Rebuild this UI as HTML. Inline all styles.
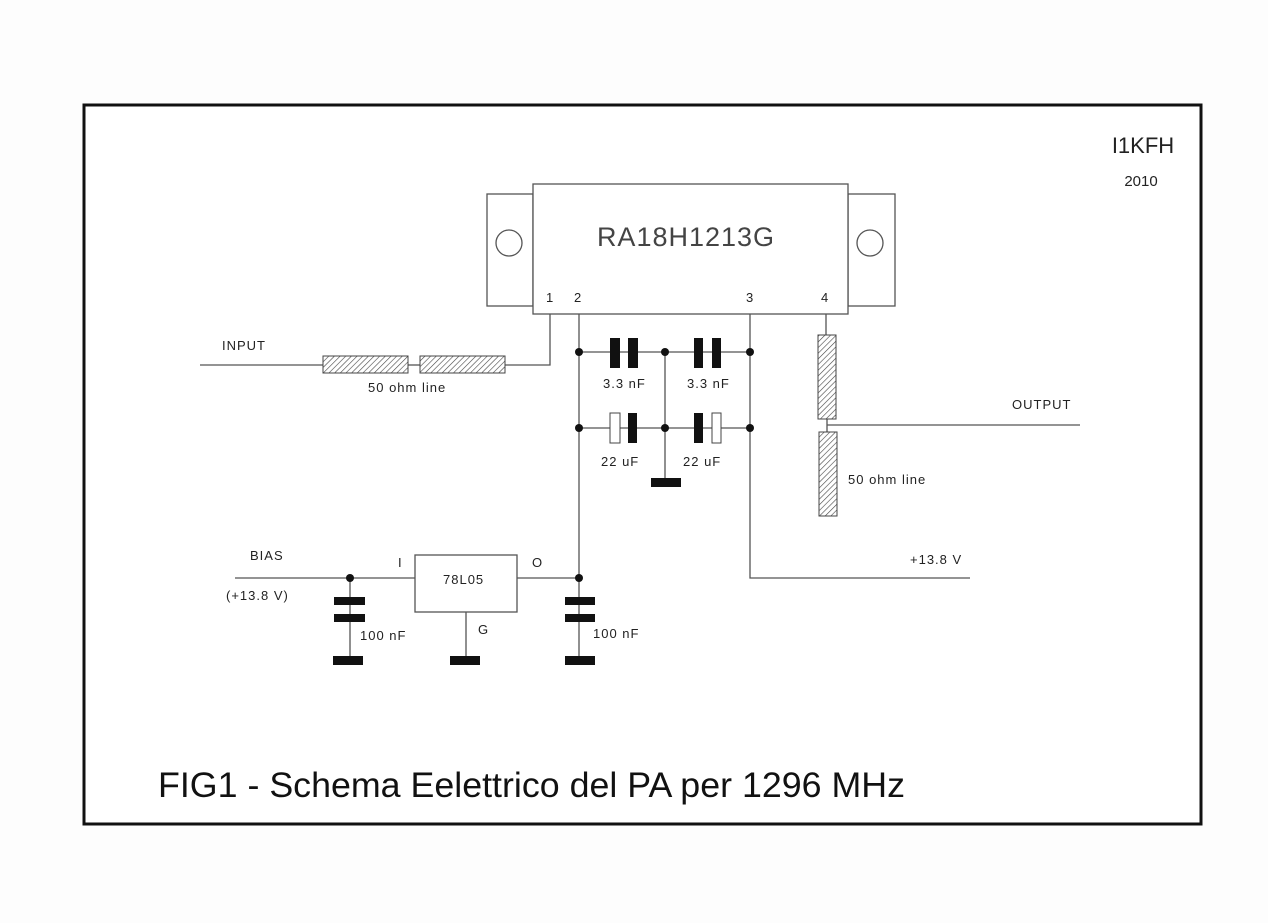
<!DOCTYPE html>
<html><head><meta charset="utf-8"><style>
html,body{margin:0;padding:0;background:#fff;}
svg{display:block}
text{font-family:"Liberation Sans",sans-serif;fill:#222}
.t{font-size:13px;fill:#333;letter-spacing:1px}
</style></head><body>
<svg width="1268" height="923" viewBox="0 0 1268 923" xmlns="http://www.w3.org/2000/svg">
<defs>
<pattern id="h" width="4" height="4" patternUnits="userSpaceOnUse" patternTransform="rotate(45)">
<rect width="4" height="4" fill="#fff"/><line x1="0" y1="0" x2="0" y2="4" stroke="#444" stroke-width="1.2"/>
</pattern>
</defs>
<rect width="1268" height="923" fill="#fdfdfd"/>
<rect x="84" y="105" width="1117" height="719" fill="#fff" stroke="#111" stroke-width="3"/>
<g stroke="#555" stroke-width="1.3" fill="none">
<rect x="487" y="194" width="46" height="112"/>
<rect x="848" y="194" width="47" height="112"/>
<rect x="533" y="184" width="315" height="130" fill="#fff"/>
<circle cx="509" cy="243" r="13"/>
<circle cx="870" cy="243" r="13"/>
<polyline points="550,314 550,365 505,365"/>
<line x1="200" y1="365" x2="323" y2="365"/>
<line x1="408" y1="365" x2="420" y2="365"/>
<line x1="579" y1="314" x2="579" y2="578"/>
<polyline points="750,314 750,578 970,578"/>
<line x1="579" y1="352" x2="750" y2="352"/>
<line x1="579" y1="428" x2="750" y2="428"/>
<line x1="665" y1="352" x2="665" y2="480"/>
<line x1="826" y1="314" x2="826" y2="335"/>
<line x1="827" y1="419" x2="827" y2="432"/>
<line x1="827" y1="425" x2="1080" y2="425"/>
<line x1="235" y1="578" x2="415" y2="578"/>
<line x1="517" y1="578" x2="579" y2="578"/>
<line x1="350" y1="578" x2="350" y2="660"/>
<line x1="579" y1="578" x2="579" y2="660"/>
<line x1="466" y1="612" x2="466" y2="660"/>
<rect x="415" y="555" width="102" height="57" fill="#fff"/>
</g>
<g stroke="#444" stroke-width="1" fill="url(#h)">
<rect x="323" y="356" width="85" height="17"/>
<rect x="420" y="356" width="85" height="17"/>
<rect x="818" y="335" width="18" height="84"/>
<rect x="819" y="432" width="18" height="84"/>
</g>
<g fill="#111">
<circle cx="579" cy="352" r="4"/><circle cx="665" cy="352" r="4"/><circle cx="750" cy="352" r="4"/>
<circle cx="579" cy="428" r="4"/><circle cx="665" cy="428" r="4"/><circle cx="750" cy="428" r="4"/>
<circle cx="350" cy="578" r="4"/><circle cx="579" cy="578" r="4"/>
<rect x="610" y="338" width="10" height="30"/><rect x="628" y="338" width="10" height="30"/>
<rect x="694" y="338" width="9" height="30"/><rect x="712" y="338" width="9" height="30"/>
<rect x="628" y="413" width="9" height="30"/><rect x="694" y="413" width="9" height="30"/>
<rect x="651" y="478" width="30" height="9"/>
<rect x="334" y="597" width="31" height="8"/><rect x="334" y="614" width="31" height="8"/><rect x="333" y="656" width="30" height="9"/>
<rect x="565" y="597" width="30" height="8"/><rect x="565" y="614" width="30" height="8"/><rect x="565" y="656" width="30" height="9"/>
<rect x="450" y="656" width="30" height="9"/>
</g>
<g fill="#fff" stroke="#444" stroke-width="1">
<rect x="610" y="413" width="10" height="30"/><rect x="712" y="413" width="9" height="30"/>
</g>
<text x="686" y="246" font-size="27" text-anchor="middle" style="fill:#444;font-weight:300;letter-spacing:1px">RA18H1213G</text>
<g class="t">
<text x="546" y="302">1</text><text x="574" y="302">2</text><text x="746" y="302">3</text><text x="821" y="302">4</text>
<text x="222" y="350">INPUT</text>
<text x="368" y="392">50 ohm line</text>
<text x="603" y="388">3.3 nF</text><text x="687" y="388">3.3 nF</text>
<text x="601" y="466">22 uF</text><text x="683" y="466">22 uF</text>
<text x="1012" y="409">OUTPUT</text>
<text x="848" y="484">50 ohm line</text>
<text x="910" y="564">+13.8 V</text>
<text x="250" y="560">BIAS</text>
<text x="226" y="600">(+13.8 V)</text>
<text x="398" y="567">I</text><text x="532" y="567">O</text>
<text x="443" y="584">78L05</text>
<text x="478" y="634">G</text>
<text x="360" y="640">100 nF</text><text x="593" y="638">100 nF</text>
</g>
<text x="1143" y="153" font-size="22" text-anchor="middle">I1KFH</text>
<text x="1141" y="186" font-size="15" text-anchor="middle">2010</text>
<text x="158" y="797" font-size="35" textLength="747" lengthAdjust="spacingAndGlyphs" style="fill:#111">FIG1 - Schema Eelettrico del PA per 1296 MHz</text>
</svg>
</body></html>
